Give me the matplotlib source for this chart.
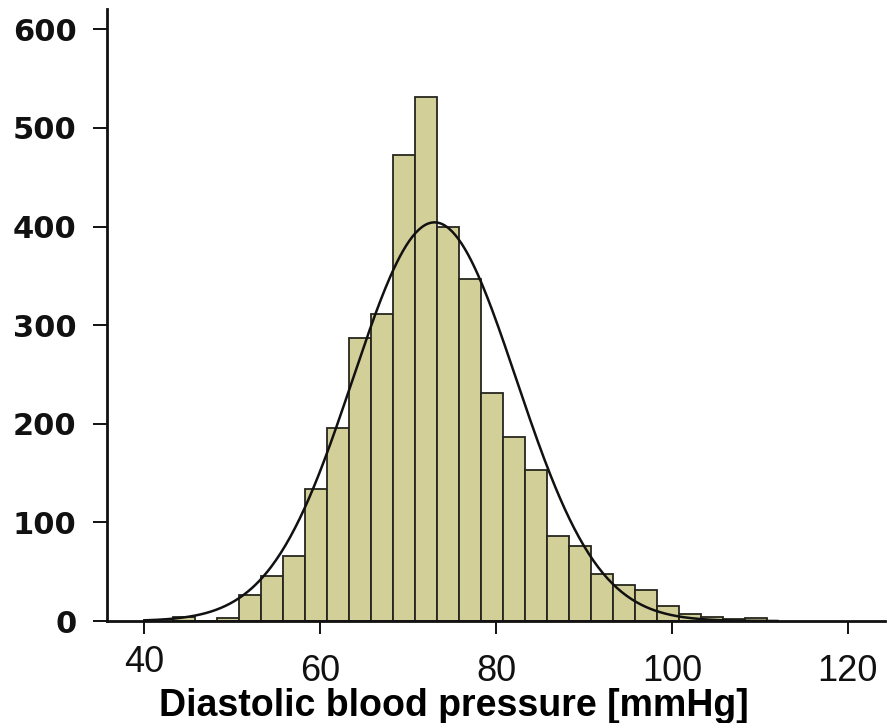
import numpy as np
import matplotlib.pyplot as plt
from matplotlib.transforms import ScaledTranslation

# histogram of diastolic blood pressure, 2.5 mmHg bins
bin_start = 43.25
bin_width = 2.5
counts = [4, 0, 3, 26, 46, 66, 134, 196, 287, 311, 473, 531, 400, 347,
          231, 187, 153, 86, 76, 48, 37, 32, 15, 7, 4, 2, 3]

# fitted normal curve
mu = 73.0
sigma = 9.3
n_total = 3770

x_ticks = [40, 60, 80, 100, 120]
y_ticks = [0, 100, 200, 300, 400, 500, 600]

fig = plt.figure(figsize=(8.94, 7.23), dpi=100)
ax = fig.add_axes([0.1197, 0.141, 0.870, 0.847])

edges = bin_start + bin_width * np.arange(len(counts))
ax.bar(edges, counts, width=bin_width, align='edge',
       color='#d3cf99', edgecolor='#26261e', linewidth=1.3, zorder=2)

xs = np.linspace(40, 112, 400)
pdf = np.exp(-0.5 * ((xs - mu) / sigma) ** 2) / (sigma * np.sqrt(2 * np.pi))
ax.plot(xs, n_total * bin_width * pdf, color='#111111', lw=1.8, zorder=3)

ax.set_xlim(35.76, 124.2)
ax.set_ylim(0, 621)
ax.set_xticks(x_ticks)
ax.set_yticks(y_ticks)

for side in ['top', 'right']:
    ax.spines[side].set_visible(False)
for side in ['left', 'bottom']:
    ax.spines[side].set_linewidth(2.0)
    ax.spines[side].set_color('#111111')

ax.tick_params(axis='y', direction='out', length=10, width=1.4, pad=12,
               colors='#111111')
ax.tick_params(axis='x', direction='out', length=9, width=1.4, pad=15,
               colors='#111111')

for lbl in ax.get_yticklabels():
    lbl.set_fontfamily('DejaVu Sans')
    lbl.set_fontweight('bold')
    lbl.set_fontsize(22)
for lbl in ax.get_xticklabels():
    lbl.set_fontfamily('Liberation Sans')
    lbl.set_fontsize(26)

# the "40" label sits a little higher than the rest
lbl40 = ax.get_xticklabels()[0]
lbl40.set_transform(lbl40.get_transform() +
                    ScaledTranslation(0, 9 / 100, fig.dpi_scale_trans))

ax.set_xlabel('Diastolic blood pressure [mmHg]', fontfamily='Liberation Sans',
              fontweight='bold', fontsize=27, va='center')
ax.xaxis.set_label_coords(0.446, -0.138)

fig.savefig('out.png', dpi=100)
